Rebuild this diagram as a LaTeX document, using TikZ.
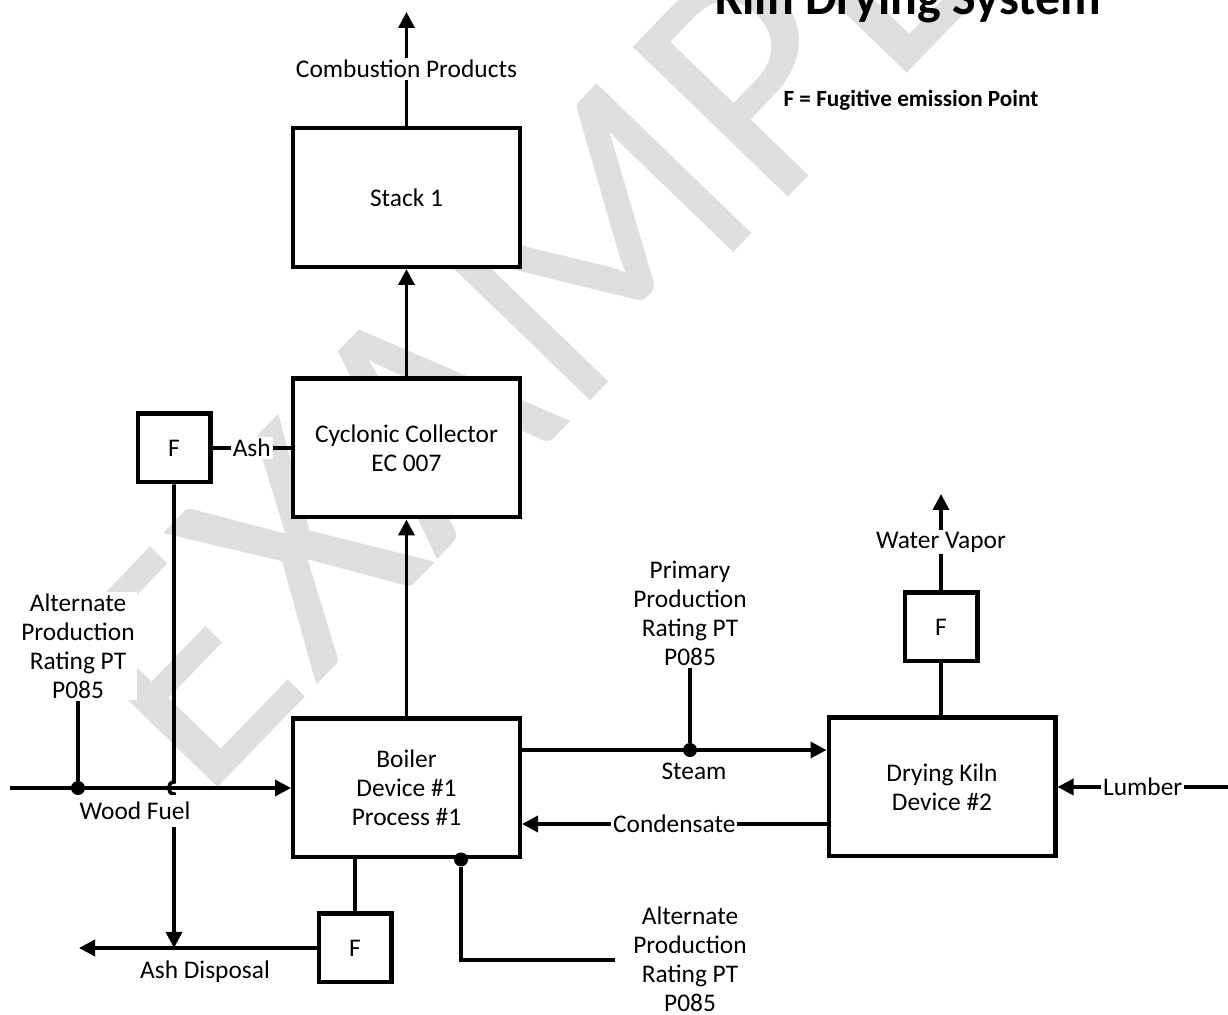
\documentclass[tikz,border=0pt]{standalone}
\usepackage{fontspec}
\setmainfont{Carlito}
\usetikzlibrary{arrows.meta}
\definecolor{wGray}{gray}{0.87}
\tikzset{
    box/.style={rectangle, draw, line width=2.2pt, fill=white, minimum width=113.3pt, minimum height=69.3pt, align=center},
    fbox/.style={rectangle, draw, line width=2.2pt, fill=white, minimum width=36.3pt, minimum height=34.3pt},
    dot/.style={circle, fill, inner sep=0pt, minimum size=7pt},
    flow/.style={line width=1.8pt},
    arr/.style={flow, -{Triangle[length=8pt,width=8pt]}},
    cut/.style={fill=white, inner sep=1pt},
    lbl/.style={align=center, fill=white, inner sep=1pt},
    wmark/.style={text=wGray, rotate=46, inner sep=0pt, font=\fontsize{168}{168}\selectfont}
}

\begin{document}
\begin{tikzpicture}[x=0.5pt,y=-0.5pt,every node/.style={font=\fontsize{12.7}{14.5}\selectfont}]
\useasboundingbox (0,0) rectangle (1228,1015);
% watermark
\node[wmark] (wm) at (575,262) {EXAMPLE};
% title and legend
\node[anchor=base, font=\bfseries\fontsize{25}{30}\selectfont] (title) at (908,15) {Kiln Drying System};
\node[font=\bfseries\fontsize{11.6}{14}\selectfont] (legend) at (911,100) {F = Fugitive emission Point};
% units
\node[box] (stack)   at (406.5,197.5) {Stack 1};
\node[box] (cyclone) at (406.5,448)   {Cyclonic Collector\\EC 007};
\node[box] (boiler)  at (406.5,788)   {Boiler\\Device \#1\\Process \#1};
\node[box] (kiln)    at (942,787)     {Drying Kiln\\Device \#2};
\node[fbox] (fash)  at (174,448) {F};
\node[fbox] (fbot)  at (355,948) {F};
\node[fbox] (fkiln) at (941,627) {F};
% rating points
\node[lbl] (altA) at (78,646)  {Alternate\\Production\\Rating PT\\P085};
\node[lbl] (prim) at (690,613) {Primary\\Production\\Rating PT\\P085};
\node[lbl] (altB) at (690,959) {Alternate\\Production\\Rating PT\\P085};
\coordinate (cpEnd)  at (406.5,12);
\coordinate (wfIn)   at (10,788);
\coordinate (wfHop)  at (174,788);
\coordinate (adEnd)  at (79,948);
\coordinate (adJoin) at (174,948);
\coordinate (wvEnd)  at (941,494);
\coordinate (lbIn)   at (1228,787);
\coordinate (cdY)    at (675,824);
\coordinate (altOut) at (615,960);
\node[dot] (dwf) at (78,788)    {};
\node[dot] (dst) at (690,750)   {};
\node[dot] (dbo) at (461,859.5) {};
% flows
\draw[arr] (stack) -- node[cut]{Combustion Products} (cpEnd);
\draw[arr] (cyclone) -- (stack);
\draw[arr] (boiler) -- (cyclone);
\draw[flow] (fash) -- node[cut]{Ash} (cyclone);
\draw[arr] (fash) -- ([yshift=3pt]wfHop) .. controls +(-3.5pt,0) and +(-3.5pt,0) .. ([yshift=-3pt]wfHop) -- (adJoin);
\draw[arr] (wfIn) -- (boiler);
\draw[flow] (altA) -- (dwf);
\node[lbl, inner ysep=3.5pt] (wflbl) at (135,811) {Wood Fuel};
\draw[arr] (fbot) -- (adEnd);
\node[lbl] (adlbl) at (205,972) {Ash Disposal};
\draw[flow] (boiler.south -| fbot) -- (fbot);
\draw[flow] (dbo) |- (altOut);
\draw[arr] (boiler.east |- dst) -- (kiln.west |- dst);
\draw[flow] (prim) -- (dst);
\node[lbl] (stlbl) at (694,771) {Steam};
\draw[arr] (kiln.west |- cdY) -- node[cut]{Condensate} (boiler.east |- cdY);
\draw[arr] (lbIn) -- node[cut]{Lumber} (kiln);
\draw[flow] (kiln.north -| fkiln) -- (fkiln);
\draw[arr] (fkiln) -- node[cut]{Water Vapor} (wvEnd);
\end{tikzpicture}
\end{document}
